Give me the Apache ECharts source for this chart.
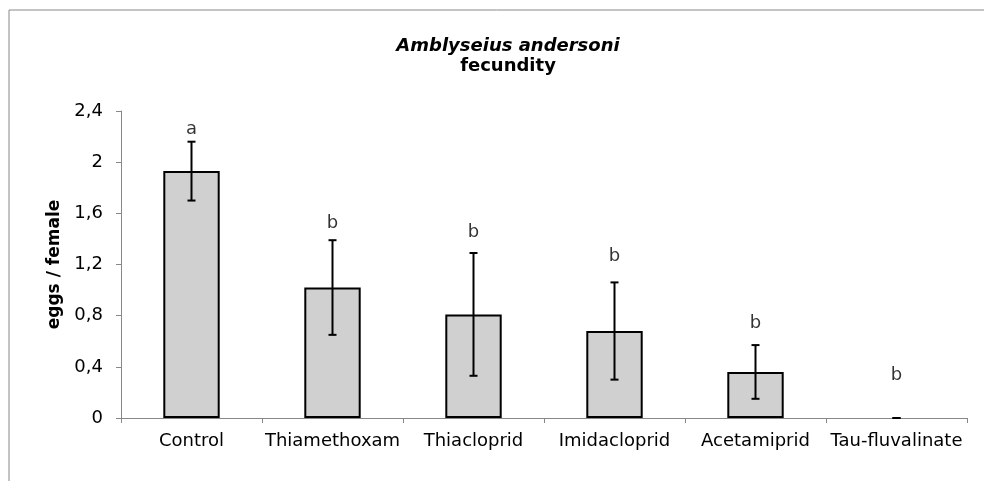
<!DOCTYPE html>
<html>
<head>
<meta charset="utf-8">
<script src="https://cdn.jsdelivr.net/npm/echarts@6/dist/echarts.min.js"></script>
<style>
  html, body { margin: 0; padding: 0; background: #fff; }
  #chart { width: 984px; height: 481px; }
</style>
</head>
<body>
<div id="chart"></div>
<script>
var categories = ['Control', 'Thiamethoxam', 'Thiacloprid', 'Imidacloprid', 'Acetamiprid', 'Tau-fluvalinate'];
var means = [1.93, 1.02, 0.81, 0.68, 0.36, 0];
var errors = [0.23, 0.37, 0.48, 0.38, 0.21, 0];
var letters = ['a', 'b', 'b', 'b', 'b', 'b'];
var letterY = [2.26, 1.52, 1.45, 1.26, 0.74, 0.33];

var FONT = 'DejaVu Sans';

function eachOf(arr, fn) { for (var i = 0; i < arr.length; i++) fn(i, arr[i]); }

// bars (no outline when the mean is 0)
var barData = [];
eachOf(means, function (i, m) {
  barData.push(m === 0 ? { value: m, itemStyle: { borderWidth: 0 } } : m);
});

// error bars: [x, low, high]
var errData = [];
eachOf(means, function (i, m) {
  errData.push([i, m - errors[i], m + errors[i]]);
});

// significance letters
var letterData = [];
eachOf(letters, function (i, l) {
  letterData.push({ value: [i, letterY[i]], name: l });
});

function renderErr(params, api) {
  var x = api.value(0);
  var lo = api.coord([x, api.value(1)]);
  var hi = api.coord([x, api.value(2)]);
  var half = 4;
  var style = { stroke: '#000', lineWidth: 2 };
  return {
    type: 'group',
    children: [
      { type: 'line', shape: { x1: hi[0], y1: hi[1], x2: lo[0], y2: lo[1] }, style: style },
      { type: 'line', shape: { x1: hi[0] - half, y1: hi[1], x2: hi[0] + half, y2: hi[1] }, style: style },
      { type: 'line', shape: { x1: lo[0] - half, y1: lo[1], x2: lo[0] + half, y2: lo[1] }, style: style }
    ]
  };
}

var option = {
  animation: false,
  textStyle: { fontFamily: FONT },
  title: {
    text: 'Amblyseius andersoni',
    subtext: 'fecundity',
    left: 503,
    textAlign: 'center',
    top: 32,
    itemGap: 2,
    textStyle: { fontSize: 18, fontWeight: 'bold', fontStyle: 'italic', color: '#000', fontFamily: FONT },
    subtextStyle: { fontSize: 18, fontWeight: 'bold', color: '#000', fontFamily: FONT }
  },
  graphic: [
    { type: 'polyline', shape: { points: [[9, 481], [9, 10], [984, 10]] }, style: { stroke: '#888', lineWidth: 1, fill: null } }
  ],
  grid: { left: 121, right: 17, top: 111, bottom: 63 },
  xAxis: {
    type: 'category',
    data: categories,
    axisLine: { lineStyle: { color: '#888', width: 1 } },
    axisTick: { show: true, length: 5, lineStyle: { color: '#888' } },
    axisLabel: { interval: 0, color: '#000', fontSize: 18, margin: 14, fontFamily: FONT }
  },
  yAxis: {
    type: 'value',
    min: 0,
    max: 2.4,
    interval: 0.4,
    name: 'eggs / female',
    nameLocation: 'middle',
    nameGap: 58,
    nameTextStyle: { fontSize: 17, fontWeight: 'bold', color: '#000', fontFamily: FONT },
    axisLine: { show: true, lineStyle: { color: '#888', width: 1 } },
    axisTick: { show: true, length: 5, lineStyle: { color: '#888' } },
    splitLine: { show: false },
    axisLabel: {
      color: '#000', fontSize: 18, margin: 18, fontFamily: FONT,
      formatter: function (v) { return (Math.round(v * 10) / 10).toString().replace('.', ','); }
    }
  },
  series: [
    {
      type: 'bar',
      data: barData,
      barWidth: '40%',
      itemStyle: { color: '#d0d0d0', borderColor: '#000', borderWidth: 2 }
    },
    {
      type: 'custom',
      renderItem: renderErr,
      data: errData,
      encode: { x: 0, y: [1, 2] },
      z: 3
    },
    {
      type: 'scatter',
      data: letterData,
      symbolSize: 0,
      label: {
        show: true,
        position: 'inside',
        formatter: function (p) { return p.name; },
        color: '#000',
        fontSize: 18,
        fontFamily: FONT
      }
    }
  ]
};

var myChart = echarts.init(document.getElementById('chart'));
myChart.setOption(option);
</script>
</body>
</html>
